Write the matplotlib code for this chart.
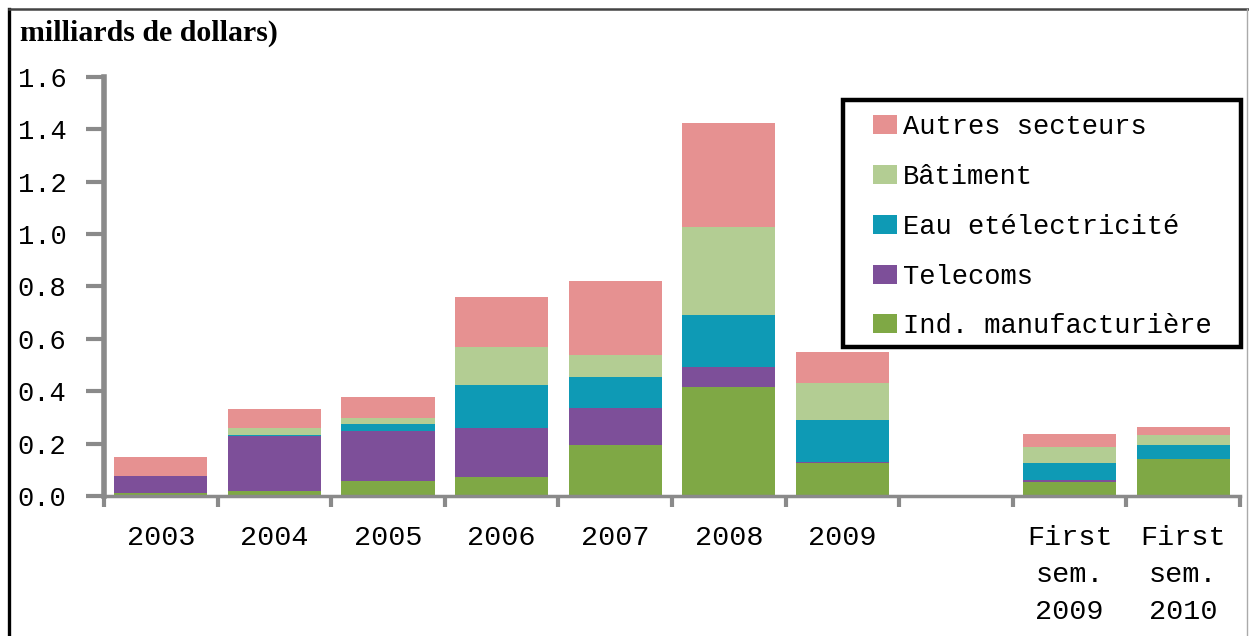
import numpy as np
import matplotlib
matplotlib.use("Agg")
import matplotlib.pyplot as plt
from matplotlib.patches import Rectangle

# Investment by sector, billions of dollars
categories = ["2003", "2004", "2005", "2006", "2007", "2008", "2009", "",
              "First\nsem.\n2009", "First\nsem.\n2010"]

manuf    = [0.010, 0.020, 0.057, 0.074, 0.195, 0.417, 0.125, 0.0, 0.055, 0.140]
telecoms = [0.065, 0.210, 0.190, 0.187, 0.140, 0.074, 0.006, 0.0, 0.006, 0.000]
eau      = [0.000, 0.003, 0.027, 0.163, 0.120, 0.200, 0.159, 0.0, 0.066, 0.055]
batiment = [0.000, 0.025, 0.023, 0.144, 0.083, 0.337, 0.140, 0.0, 0.061, 0.038]
autres   = [0.075, 0.074, 0.081, 0.190, 0.282, 0.397, 0.121, 0.0, 0.049, 0.029]

series = [
    ("Ind. manufacturière", manuf,    "#7fa845"),
    ("Telecoms",            telecoms, "#7d4f99"),
    ("Eau etélectricité",   eau,      "#0e9ab5"),
    ("Bâtiment",            batiment, "#b3cd93"),
    ("Autres secteurs",     autres,   "#e69191"),
]

MONO = "Liberation Mono"
W, H = 1249, 636

fig = plt.figure(figsize=(W / 100, H / 100), dpi=100)
fig.patch.set_facecolor("white")

# outer frame of the figure block
fig.add_artist(plt.Line2D([9 / W, 9 / W], [0, 1 - 9 / H],
                          transform=fig.transFigure, color="black", lw=2.4))
fig.add_artist(plt.Line2D([9 / W, 1], [1 - 9 / H, 1 - 9 / H],
                          transform=fig.transFigure, color="#444", lw=1.8))
fig.add_artist(plt.Line2D([1247 / W, 1247 / W], [0, 1 - 9 / H],
                          transform=fig.transFigure, color="#aaa", lw=1.0))

fig.text(20 / W, 1 - 41 / H, "milliards de dollars)",
         fontsize=21.5, fontweight="bold", family="Liberation Serif",
         ha="left", va="baseline")

ax = fig.add_axes([104 / W, 140 / H, 1136 / W, 419.3 / H])

x = np.arange(len(categories))
bottom = np.zeros(len(categories))
handles = []
for label, vals, color in series:
    vals = np.array(vals)
    b = ax.bar(x, vals, width=0.82, bottom=bottom, color=color,
               label=label, linewidth=0)
    handles.append(b)
    bottom += vals

ax.set_xlim(-0.5, len(categories) - 0.5)
ax.set_ylim(0, 1.6)
yticks = np.arange(0, 1.61, 0.2)
ax.set_yticks(yticks)
ax.set_yticklabels([f"{v:.1f}" for v in yticks], family=MONO, fontsize=19.5)

# labels sit at bar centres, tick marks at the slot boundaries
ax.set_xticks(x)
ax.set_xticklabels(categories, family=MONO, fontsize=20.5,
                   linespacing=1.55, va="top")
ax.set_xticks(np.arange(-0.5, len(categories), 1), minor=True)
ax.tick_params(axis="x", which="major", length=0, pad=21)
ax.tick_params(axis="x", which="minor", length=8, width=3, color="#8a8a8a")
ax.tick_params(axis="y", length=13, width=3, color="#8a8a8a", pad=14)

for side in ("top", "right"):
    ax.spines[side].set_visible(False)
ax.spines["left"].set_color("#8a8a8a")
ax.spines["left"].set_linewidth(4)
ax.spines["bottom"].set_color("#8a8a8a")
ax.spines["bottom"].set_linewidth(2.5)

leg = ax.legend(handles[::-1], [s[0] for s in series][::-1],
                loc="upper left",
                bbox_to_anchor=(873 / W, 1 - 114 / H),
                bbox_transform=fig.transFigure,
                prop={"family": MONO, "size": 19.5},
                frameon=False, borderaxespad=0, borderpad=0,
                handlelength=0.9, handleheight=0.7, handletextpad=0.2,
                labelspacing=0.88)

# black box around the legend
fig.add_artist(Rectangle((843 / W, 1 - 347 / H), 398 / W, 247 / H,
                         transform=fig.transFigure, fill=False,
                         edgecolor="black", linewidth=3.2))

fig.savefig("out.png", dpi=100, facecolor="white")
